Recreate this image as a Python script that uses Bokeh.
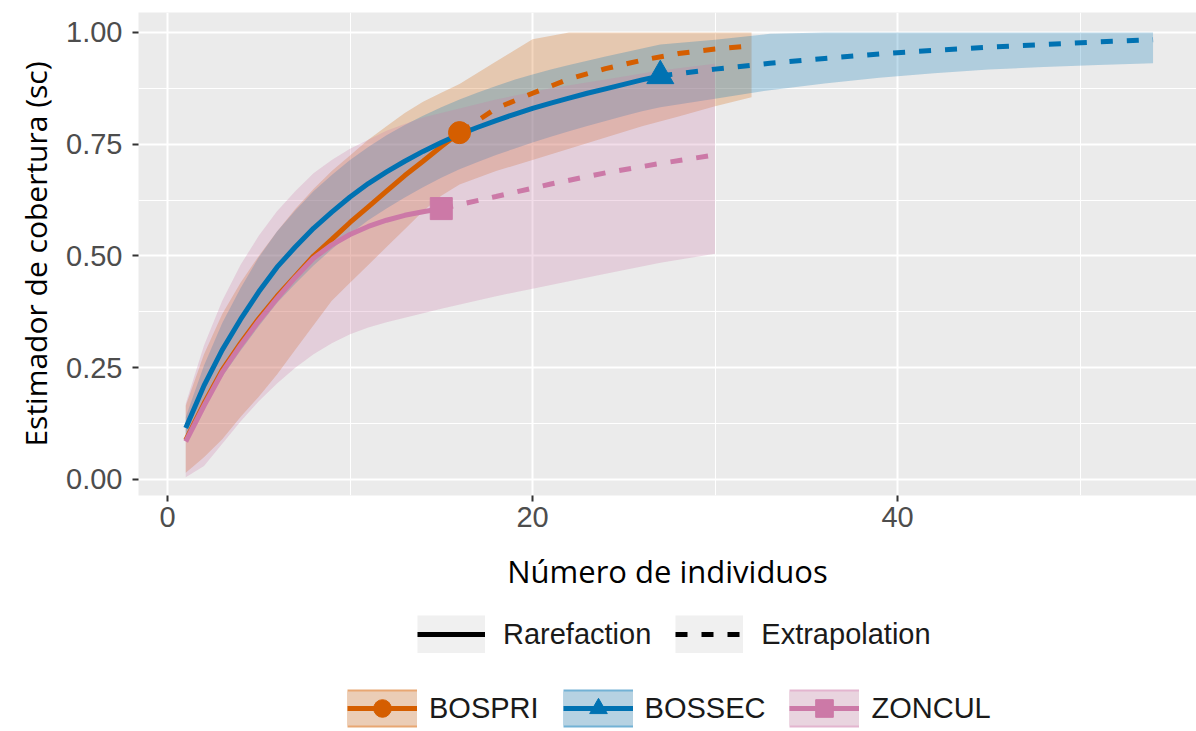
from bokeh.plotting import figure
from bokeh.layouts import column
from bokeh.models import (ColumnDataSource, Range1d, FixedTicker, NumeralTickFormatter,
                          Legend, LegendItem, Title)
from bokeh.embed import file_html
from bokeh.resources import INLINE

# ---------------- data ----------------
groups = ["BOSPRI", "BOSSEC", "ZONCUL"]
methods = ["Rarefaction", "Extrapolation"]

bospri_rare_n = [1, 2, 3, 4, 5, 6, 7, 8, 9, 10, 11, 12, 13, 14, 15, 16]
bospri_rare_sc = [0.088, 0.170, 0.245, 0.305, 0.360, 0.410, 0.455, 0.500, 0.537, 0.575,
                  0.610, 0.645, 0.680, 0.712, 0.745, 0.776]
bospri_ext_n = [16, 18, 20, 22, 24, 26, 28, 30, 32]
bospri_ext_sc = [0.776, 0.830, 0.864, 0.896, 0.919, 0.938, 0.953, 0.963, 0.970]
bospri_band_n = [1, 2, 3, 4, 5, 6, 7, 8, 9, 10, 11, 12, 13, 14, 15, 16,
                 18, 20, 22, 24, 26, 28, 30, 32]
bospri_band_lo = [0.015, 0.050, 0.090, 0.140, 0.185, 0.235, 0.290, 0.345, 0.400, 0.440,
                  0.480, 0.520, 0.560, 0.600, 0.635, 0.660,
                  0.690, 0.715, 0.740, 0.765, 0.790, 0.812, 0.835, 0.855]
bospri_band_hi = [0.165, 0.280, 0.370, 0.440, 0.500, 0.555, 0.605, 0.650, 0.690, 0.725,
                  0.760, 0.790, 0.820, 0.845, 0.865, 0.885,
                  0.935, 0.985, 1.000, 1.000, 1.000, 1.000, 1.000, 1.000]

bossec_rare_n = [1, 2, 3, 4, 5, 6, 7, 8, 9, 10, 11, 12, 13, 14, 15, 16, 17, 18, 19, 20,
                 21, 22, 23, 24, 25, 26, 27]
bossec_rare_sc = [0.115, 0.210, 0.290, 0.358, 0.420, 0.475, 0.520, 0.562, 0.598, 0.632,
                  0.662, 0.688, 0.712, 0.734, 0.754, 0.772, 0.788, 0.803, 0.817, 0.830,
                  0.842, 0.853, 0.864, 0.874, 0.884, 0.894, 0.903]
bossec_ext_n = [27, 30, 33, 36, 39, 42, 45, 48, 51, 54]
bossec_ext_sc = [0.903, 0.918, 0.931, 0.942, 0.952, 0.960, 0.967, 0.973, 0.979, 0.984]
bossec_band_n = [1, 2, 3, 4, 5, 6, 7, 8, 9, 10, 11, 12, 13, 14, 15, 16, 17, 18, 19, 20,
                 21, 22, 23, 24, 25, 26, 27, 30, 33, 36, 39, 42, 45, 48, 51, 54]
bossec_band_lo = [0.090, 0.165, 0.230, 0.288, 0.343, 0.395, 0.438, 0.479, 0.515, 0.549,
                  0.580, 0.606, 0.631, 0.654, 0.675, 0.694, 0.710, 0.726, 0.740, 0.754,
                  0.767, 0.779, 0.791, 0.802, 0.813, 0.824, 0.833,
                  0.852, 0.871, 0.886, 0.899, 0.909, 0.917, 0.923, 0.927, 0.931]
bossec_band_hi = [0.140, 0.255, 0.350, 0.428, 0.497, 0.555, 0.602, 0.645, 0.681, 0.715,
                  0.744, 0.770, 0.793, 0.814, 0.833, 0.850, 0.866, 0.880, 0.894, 0.906,
                  0.917, 0.927, 0.937, 0.946, 0.955, 0.964, 0.973,
                  0.984, 0.997, 1.000, 1.000, 1.000, 1.000, 1.000, 1.000, 1.000]

zoncul_rare_n = [1, 2, 3, 4, 5, 6, 7, 8, 9, 10, 11, 12, 13, 14, 15]
zoncul_rare_sc = [0.085, 0.165, 0.240, 0.300, 0.355, 0.405, 0.452, 0.495, 0.525, 0.548,
                  0.566, 0.580, 0.591, 0.599, 0.606]
zoncul_ext_n = [15, 18, 21, 24, 27, 30]
zoncul_ext_sc = [0.606, 0.633, 0.661, 0.686, 0.707, 0.726]
zoncul_band_n = [1, 2, 3, 4, 5, 6, 7, 8, 9, 10, 11, 12, 13, 14, 15, 18, 21, 24, 27, 30]
zoncul_band_lo = [0.005, 0.030, 0.080, 0.130, 0.175, 0.215, 0.250, 0.280, 0.305, 0.325,
                  0.340, 0.352, 0.362, 0.372, 0.382, 0.410, 0.435, 0.460, 0.485, 0.505]
zoncul_band_hi = [0.170, 0.300, 0.400, 0.480, 0.545, 0.600, 0.645, 0.685, 0.715, 0.740,
                  0.760, 0.780, 0.795, 0.810, 0.820, 0.850, 0.875, 0.895, 0.915, 0.930]

x_ticks = [0, 20, 40]
x_minor_ticks = [10, 30, 50]
y_ticks = [0.0, 0.25, 0.5, 0.75, 1.0]
y_minor_ticks = [0.125, 0.375, 0.625, 0.875]

x_title = "Número de individuos"
y_title = "Estimador de cobertura (sc)"

# ---------------- styles ----------------
colors = {"BOSPRI": "#D55E00", "BOSSEC": "#0072B2", "ZONCUL": "#CC79A7"}
key_fills = {"BOSPRI": "#EBCDB6", "BOSSEC": "#B6D2E2", "ZONCUL": "#E9D4DF"}
markers = {"BOSPRI": "circle", "BOSSEC": "triangle", "ZONCUL": "square"}
marker_sizes = {"BOSPRI": 22, "BOSSEC": 27, "ZONCUL": 22}
LW = 5
DASH = "12 14"

series = {
    "BOSPRI": (bospri_rare_n, bospri_rare_sc, bospri_ext_n, bospri_ext_sc,
               bospri_band_n, bospri_band_lo, bospri_band_hi),
    "BOSSEC": (bossec_rare_n, bossec_rare_sc, bossec_ext_n, bossec_ext_sc,
               bossec_band_n, bossec_band_lo, bossec_band_hi),
    "ZONCUL": (zoncul_rare_n, zoncul_rare_sc, zoncul_ext_n, zoncul_ext_sc,
               zoncul_band_n, zoncul_band_lo, zoncul_band_hi),
}

# ---------------- main panel ----------------
p = figure(width=1196, height=596,
           x_range=Range1d(-1.589, 56.38), y_range=Range1d(-0.0358, 1.0447),
           output_backend="svg", toolbar_location=None,
           min_border_left=138, min_border_right=0, min_border_top=12,
           min_border_bottom=101)
p.background_fill_color = "#EBEBEB"
p.border_fill_color = "white"
p.outline_line_color = None

p.xaxis.ticker = FixedTicker(ticks=x_ticks, minor_ticks=x_minor_ticks)
p.yaxis.ticker = FixedTicker(ticks=y_ticks, minor_ticks=y_minor_ticks)
p.yaxis.formatter = NumeralTickFormatter(format="0.00")
for g in (p.xgrid[0], p.ygrid[0]):
    g.grid_line_color = "white"
    g.grid_line_width = 2
    g.minor_grid_line_color = "white"
    g.minor_grid_line_width = 1

for ax in (p.xaxis[0], p.yaxis[0]):
    ax.axis_line_color = None
    ax.major_tick_line_color = "#333333"
    ax.major_tick_line_width = 2
    ax.major_tick_out = 6
    ax.major_tick_in = 0
    ax.minor_tick_line_color = None
    ax.major_label_text_font = "Liberation Sans"
    ax.major_label_text_font_size = "29px"
    ax.major_label_text_color = "#4D4D4D"
    ax.axis_label_text_font = "Open Sans"
    ax.axis_label_text_font_size = "31px"
    ax.axis_label_text_font_style = "normal"
    ax.axis_label_text_color = "black"

p.xaxis.axis_label = x_title
p.xaxis.major_label_standoff = 5
p.xaxis.axis_label_standoff = 20
p.yaxis.major_label_standoff = 10

ytitle = Title(text=y_title, align="center", offset=-26, standoff=16,
               text_font="Open Sans", text_font_size="30px", text_font_style="normal",
               text_color="black")
p.add_layout(ytitle, "left")

for g in groups:
    rn, rs, en, es, bn, blo, bhi = series[g]
    src = ColumnDataSource(data=dict(x=bn, lo=blo, hi=bhi))
    p.varea(x="x", y1="lo", y2="hi", source=src, fill_color=colors[g], fill_alpha=0.25)

for g in groups:
    rn, rs, en, es, bn, blo, bhi = series[g]
    p.line("x", "y", source=ColumnDataSource(data=dict(x=rn, y=rs)),
           line_color=colors[g], line_width=LW)
    p.line("x", "y", source=ColumnDataSource(data=dict(x=en, y=es)),
           line_color=colors[g], line_width=LW, line_dash=DASH)

for g in groups:
    rn, rs, en, es, bn, blo, bhi = series[g]
    p.scatter("x", "y", source=ColumnDataSource(data=dict(x=[rn[-1]], y=[rs[-1]])),
              marker=markers[g], size=marker_sizes[g],
              fill_color=colors[g], line_color=colors[g])

# ---------------- legend strip ----------------
# its view range lies away from the data, so its renderers only appear as legend keys
lf = figure(width=1196, height=135, x_range=Range1d(100, 101), y_range=Range1d(100, 101),
            output_backend="svg", toolbar_location=None, min_border=0,
            x_axis_location=None, y_axis_location=None)
lf.grid.visible = False
lf.outline_line_color = None
lf.background_fill_color = "white"
lf.border_fill_color = "white"

H = 38
H2 = 44

def key_line(n, s, **kw):
    return lf.line("x", "y", source=ColumnDataSource(data=dict(x=n, y=s)), **kw)

gray_key = key_line(bospri_rare_n, bospri_rare_sc, line_color="#F0F0F0", line_width=H,
                    line_cap="butt")
rare_key = key_line(bospri_rare_n, bospri_rare_sc, line_color="black", line_width=LW)
ext_key = key_line(bospri_ext_n, bospri_ext_sc, line_color="black", line_width=LW,
                   line_dash=DASH)

leg1 = Legend(items=[LegendItem(label=methods[0], renderers=[gray_key, rare_key]),
                     LegendItem(label=methods[1], renderers=[gray_key, ext_key])],
              orientation="horizontal", location=(279, 78),
              glyph_width=68, glyph_height=H, label_standoff=18, spacing=24,
              padding=0, margin=0, border_line_color=None, background_fill_alpha=0,
              label_text_font="Liberation Sans", label_text_font_size="29px",
              label_text_color="#1A1A1A")

items2 = []
for g in groups:
    rn, rs, en, es, bn, blo, bhi = series[g]
    outer = key_line(rn, rs, line_color=colors[g], line_alpha=0.55, line_width=H,
                     line_cap="butt")
    inner = key_line(rn, rs, line_color=key_fills[g], line_width=H - 4, line_cap="butt")
    ln = key_line(rn, rs, line_color=colors[g], line_width=LW)
    mk = lf.scatter("x", "y", source=ColumnDataSource(data=dict(x=[rn[-1]], y=[rs[-1]])),
                    marker=markers[g], size=marker_sizes[g],
                    fill_color=colors[g], line_color=colors[g])
    items2.append(LegendItem(label=g, renderers=[outer, inner, ln, mk]))

leg2 = Legend(items=items2, orientation="horizontal", location=(209, 1),
              glyph_width=70, glyph_height=H2, label_standoff=12, spacing=24,
              padding=0, margin=0, border_line_color=None, background_fill_alpha=0,
              label_text_font="Liberation Sans", label_text_font_size="29px",
              label_text_color="#1A1A1A")
lf.add_layout(leg1)
lf.add_layout(leg2)

layout = column(p, lf, spacing=0)
open("out.html", "w").write(file_html(layout, INLINE))
